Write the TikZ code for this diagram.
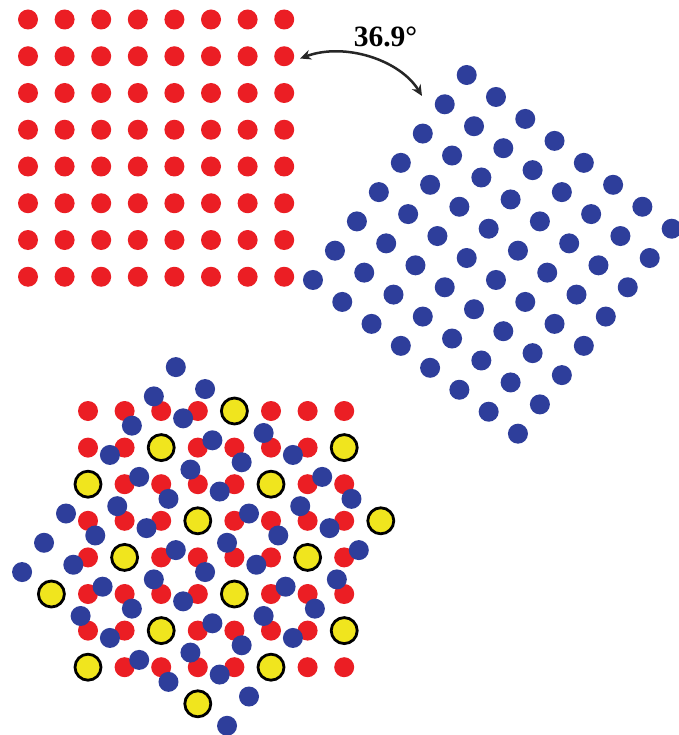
\documentclass[tikz,border=0pt]{standalone}
\usepackage{fontspec}
\setmainfont{Liberation Serif}
\usetikzlibrary{arrows.meta}
\definecolor{dotred}{RGB}{235,30,36}
\definecolor{dotblue}{RGB}{46,62,155}
\definecolor{dotyellow}{RGB}{240,229,30}
\begin{document}
\begin{tikzpicture}[x=1pt,y=-1pt,
  reddot/.style={fill=dotred},
  bluedot/.style={fill=dotblue},
  csl/.style={fill=dotyellow,draw=black,line width=2.8pt},
  anglearrow/.style={draw=black!85,line width=2.5pt,{Stealth[length=11pt,width=10pt]}-{Stealth[length=11pt,width=10pt]}}]
\useasboundingbox[fill=white] (0,0) rectangle (678,735);
% top-left red lattice
\foreach \i in {0,...,7}{\foreach \j in {0,...,7}{
  \fill[reddot] ({28+36.6*\i},{19.5+36.75*\j}) circle[radius=10pt];}}
% top-right rotated blue lattice
\foreach \i in {0,...,7}{\foreach \j in {0,...,7}{
  \fill[bluedot] ({466.7+29.28*\i-21.96*\j},{75+21.96*\i+29.28*\j}) circle[radius=10pt];}}
% angle arrow and label
\coordinate (arrL) at (300,58.5);
\coordinate (arrR) at (422,96);
\draw[anglearrow] (arrL) .. controls (345,42) and (400,60) .. (arrR);
\node[font=\bfseries\fontsize{29.5}{30}\selectfont,inner sep=0pt] (lbl) at (385.5,36.7) {36.9°};
% bottom: superposed lattices
\foreach \i in {0,...,7}{\foreach \j in {0,...,7}{
  \fill[reddot] ({88+36.6*\i},{411+36.6*\j}) circle[radius=10pt];}}
\foreach \i in {0,...,7}{\foreach \j in {0,...,7}{
  \fill[bluedot] ({175.8+29.28*\i-21.96*\j},{367.1+21.96*\i+29.28*\j}) circle[radius=10pt];}}
% coincidence sites
\foreach \c/\r in {4/0,2/1,7/1,0/2,5/2,3/3,8/3,1/4,6/4,-1/5,4/5,2/6,7/6,0/7,5/7,3/8}{
  \filldraw[csl] ({88+36.6*\c},{411+36.6*\r}) circle[radius=13pt];}
\end{tikzpicture}
\end{document}
